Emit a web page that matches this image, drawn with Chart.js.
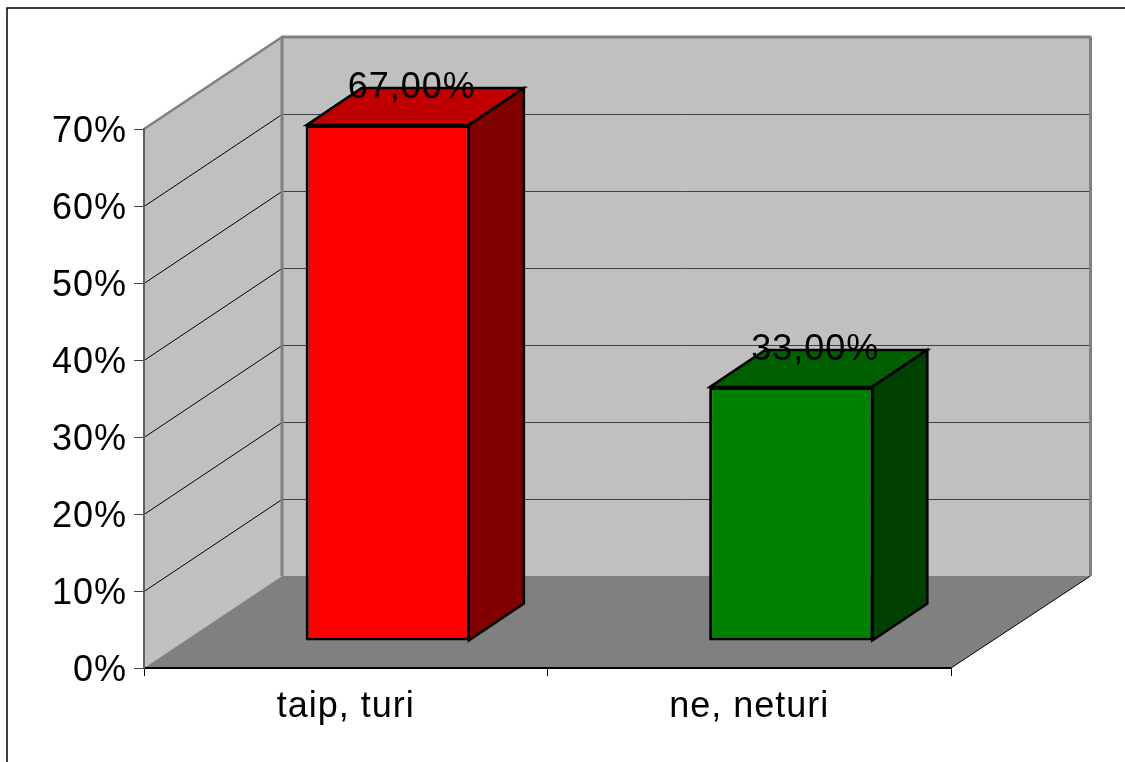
<!DOCTYPE html>
<html>
<head>
<meta charset="utf-8">
<style>html,body{margin:0;padding:0;background:#fff;overflow:hidden}canvas{display:block}</style>
<script src="https://cdn.jsdelivr.net/npm/chart.js@4"></script>
</head>
<body>
<canvas id="c" width="1125" height="762"></canvas>
<script>
const categories = ["taip, turi", "ne, neturi"];
const values = [67, 33];
const frontColors = ["#ff0000", "#008000"];
const topColors = ["#c00000", "#006000"];
const sideColors = ["#800000", "#004000"];
const tickValues = [0, 10, 20, 30, 40, 50, 60, 70];

const FONT = '"Liberation Sans", Arial, sans-serif';
const wallDX = 138, wallDY = -92;
const barShiftX = 42, barShiftY = -27;
const barDX = 55, barDY = -37;

function line(ctx, x1, y1, x2, y2, color, w) {
  ctx.strokeStyle = color; ctx.lineWidth = w;
  ctx.beginPath(); ctx.moveTo(x1, y1); ctx.lineTo(x2, y2); ctx.stroke();
}
function poly(ctx, pts, fill, stroke, w) {
  ctx.beginPath();
  pts.forEach((p, i) => i ? ctx.lineTo(p[0], p[1]) : ctx.moveTo(p[0], p[1]));
  ctx.closePath();
  ctx.fillStyle = fill; ctx.fill();
  if (stroke) { ctx.strokeStyle = stroke; ctx.lineWidth = w; ctx.lineJoin = 'miter'; ctx.stroke(); }
}

const box3d = {
  id: 'box3d',
  beforeDraw(chart) {
    const ctx = chart.ctx, a = chart.chartArea, ys = chart.scales.y;
    ctx.letterSpacing = '1px';
    ctx.save();
    ctx.letterSpacing = '0px';
    ctx.strokeStyle = '#000'; ctx.lineWidth = 1.5;
    ctx.strokeRect(7, 8, 1300, 900);
    const L = a.left, R = a.right, T = a.top, B = a.bottom;
    const bR = R + wallDX + 1.5;
    poly(ctx, [[L + wallDX, T + wallDY], [bR, T + wallDY], [bR, B + wallDY], [L + wallDX, B + wallDY]], '#c0c0c0');
    poly(ctx, [[L, T], [L + wallDX, T + wallDY], [L + wallDX, B + wallDY], [L, B]], '#c0c0c0');
    tickValues.slice(1, -1).forEach(v => {
      const y = Math.round(ys.getPixelForValue(v)) + 0.5;
      line(ctx, L, y, L + wallDX, y + wallDY, '#000', 1);
      line(ctx, L + wallDX, y + wallDY, bR, y + wallDY, '#404040', 1);
    });
    line(ctx, L, T, L + wallDX, T + wallDY, '#808080', 2.5);
    line(ctx, L + wallDX - 1, T + wallDY, bR + 1, T + wallDY, '#808080', 3);
    line(ctx, L + wallDX, T + wallDY, L + wallDX, B + wallDY, '#808080', 3);
    line(ctx, bR, T + wallDY, bR, B + wallDY, '#808080', 3);
    poly(ctx, [[L, B], [L + wallDX, B + wallDY], [bR, B + wallDY], [R, B]], '#808080');
    line(ctx, R, B, bR, B + wallDY, '#000', 1);
    ctx.restore();
  },
  beforeDatasetsDraw(chart) {
    const ctx = chart.ctx;
    ctx.save();
    chart.getDatasetMeta(0).data.forEach((bar, i) => {
      const p = bar.getProps(['x', 'y', 'base', 'width'], true);
      const x0 = p.x - p.width / 2 + barShiftX + 1, x1 = p.x + p.width / 2 + barShiftX - 1;
      const y0 = p.y + barShiftY, y1 = p.base + barShiftY;
      poly(ctx, [[x0, y0], [x0 + barDX, y0 + barDY], [x1 + barDX, y0 + barDY], [x1, y0]], topColors[i], '#000', 2.5);
      poly(ctx, [[x1, y0], [x1 + barDX, y0 + barDY], [x1 + barDX, y1 + barDY], [x1, y1]], sideColors[i], '#000', 2.5);
    });
    ctx.restore();
    ctx.save();
    ctx.translate(barShiftX, barShiftY);
  },
  afterDatasetsDraw(chart) {
    const ctx = chart.ctx;
    ctx.restore();
    ctx.save();
    ctx.font = '36px ' + FONT;
    ctx.letterSpacing = '1px';
    ctx.fillStyle = '#000';
    ctx.textAlign = 'center';
    ctx.textBaseline = 'middle';
    chart.getDatasetMeta(0).data.forEach((bar, i) => {
      const p = bar.getProps(['x', 'y'], true);
      const txt = values[i].toFixed(2).replace('.', ',') + '%';
      ctx.fillText(txt, p.x + barShiftX + 24, p.y + barShiftY - 37);
    });
    ctx.restore();
  }
};

new Chart(document.getElementById('c'), {
  type: 'bar',
  data: {
    labels: categories,
    datasets: [{
      data: values,
      backgroundColor: frontColors,
      borderColor: '#000',
      borderWidth: 3,
      borderSkipped: false,
      barPercentage: 0.407,
      categoryPercentage: 1
    }]
  },
  plugins: [box3d],
  options: {
    responsive: false,
    animation: false,
    events: [],
    layout: { padding: { left: 0, top: 129, right: 174, bottom: 0 } },
    plugins: { legend: { display: false }, title: { display: false }, tooltip: { enabled: false } },
    scales: {
      x: {
        offset: true,
        afterFit(s) { s.height = 94; },
        grid: { offset: true, drawOnChartArea: false, drawTicks: true, tickLength: 8, color: '#000', lineWidth: 1 },
        border: { display: true, color: '#000', width: 2 },
        ticks: { color: '#000', padding: 9, maxRotation: 0, font: { family: FONT, size: 36 } }
      },
      y: {
        min: 0, max: 70,
        afterFit(s) { s.width = 144; },
        afterBuildTicks(s) { s.ticks = tickValues.map(v => ({ value: v })); },
        grid: { drawOnChartArea: false, drawTicks: true, tickLength: 10, color: '#404040', lineWidth: 1 },
        border: { display: true, color: '#606060', width: 2 },
        ticks: { color: '#000', padding: 7, labelOffset: 3, callback: v => v + '%', font: { family: FONT, size: 36 } }
      }
    }
  }
});
</script>
</body>
</html>
